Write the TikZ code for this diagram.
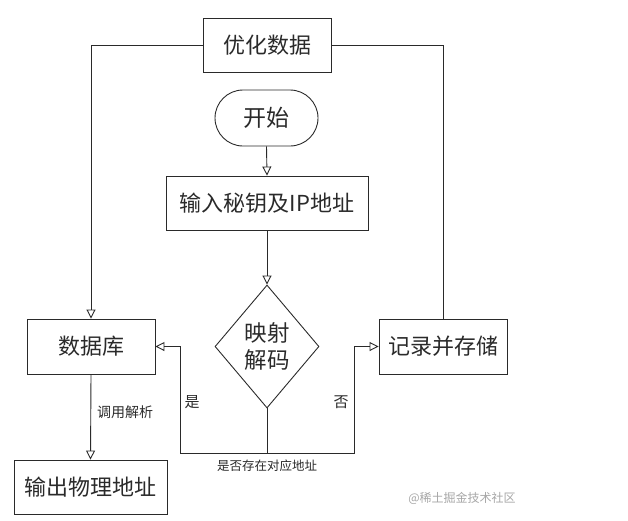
\documentclass[tikz,border=0pt]{standalone}
\usepackage{fontspec}
\setmainfont{Noto Sans CJK SC}
\usetikzlibrary{arrows.meta,shapes.geometric}
\definecolor{ink}{HTML}{2A2A2A}
\begin{document}
\begin{tikzpicture}[x=1pt,y=-1pt,
  every node/.style={text=ink},
  box/.style={draw=ink, line width=0.9pt, inner sep=0pt, font=\fontsize{22}{24}\selectfont},
  term/.style={box, rounded corners=28pt},
  dec/.style={draw=ink, line width=0.9pt, diamond, inner sep=0pt, font=\fontsize{22.5}{27}\selectfont, align=center},
  line/.style={draw=ink, line width=0.9pt},
  arr/.style={line, -{Triangle[open,width=9pt,length=9pt]}},
  small/.style={font=\fontsize{14}{16}\selectfont, inner sep=0pt},
  wmark/.style={font=\fontsize{12}{14}\selectfont, text=gray!70, inner sep=0pt}
]
\useasboundingbox (0,0) rectangle (628,520);
\node[box, minimum width=128pt, minimum height=54pt] (opt) at (267,45) {优化数据};
\node[term, minimum width=103pt, minimum height=56pt, font=\fontsize{23}{25}\selectfont] (start) at (266.5,118) {开始};
\node[box, minimum width=202pt, minimum height=54pt] (input) at (267,203) {输入秘钥及IP地址};
\node[dec, minimum width=104pt, minimum height=123pt] (dia) at (267,346.5) {映射\\解码};
\node[box, minimum width=128pt, minimum height=55pt] (db) at (91,346.5) {数据库};
\node[box, minimum width=128pt, minimum height=55pt] (rec) at (443,346.5) {记录并存储};
\node[box, minimum width=153pt, minimum height=54pt] (out) at (90.5,487) {输出物理地址};
\coordinate (j) at (267,453);
\coordinate (jl) at (180,453);
\coordinate (jr) at (354,453);

\draw[arr] (opt.west) -| (db.north);
\draw[line] (rec.north) |- (opt.east);
\draw[arr] (start.south) -- (input.north);
\draw[arr] (input.south) -- (dia.north);
\draw[arr] (dia.south) -- (j) -- (jl) |- (db.east);
\draw[arr] (j) -- (jr) |- (rec.west);
\draw[arr] (db.south) -- (out.north);

\node[small] (lcall) at (125,412) {调用解析};
\node[small, font=\fontsize{15}{17}\selectfont] (lyes) at (192,402) {是};
\node[small, font=\fontsize{15}{17}\selectfont] (lno) at (341,402) {否};
\node[small, font=\fontsize{12.5}{14}\selectfont] (lq) at (267,466) {是否存在对应地址};
\node[wmark] (wm) at (462,498) {@稀土掘金技术社区};
\end{tikzpicture}
\end{document}
